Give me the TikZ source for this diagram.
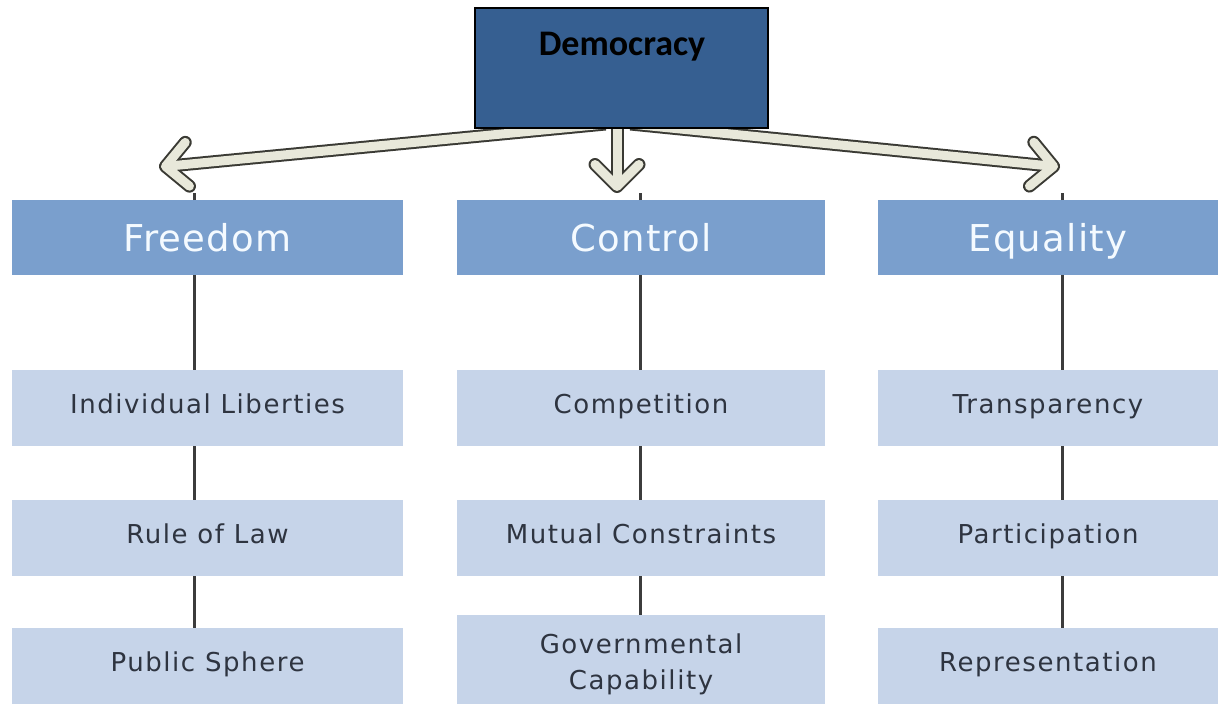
\documentclass[tikz,border=0pt]{standalone}
\usepackage{fontspec}
\setmainfont{DejaVu Sans}
\newfontfamily\titlefont{Carlito}
\newfontfamily\headfont[LetterSpace=3.6]{DejaVu Sans}
\newfontfamily\itemfont[LetterSpace=6]{DejaVu Sans}
\usetikzlibrary{arrows.meta}

\definecolor{demblue}{RGB}{54,95,145}
\definecolor{headblue}{RGB}{122,159,205}
\definecolor{itemblue}{RGB}{198,212,233}
\definecolor{headtxt}{RGB}{244,250,255}
\definecolor{itemtxt}{RGB}{46,52,64}
\definecolor{linkgray}{RGB}{60,60,60}
\definecolor{rimgray}{RGB}{58,58,52}
\definecolor{arrowfill}{RGB}{232,232,218}

\pgfdeclarelayer{back}
\pgfsetlayers{back,main}

\begin{document}
\begin{tikzpicture}[x=1pt,y=-1pt,
  every node/.style={inner sep=0pt, outer sep=0pt},
  rootbox/.style={draw=black, line width=1.4pt, fill=demblue,
    minimum width=293pt, minimum height=120pt},
  roottitle/.style={font=\titlefont\bfseries\fontsize{36}{40}\selectfont, text=black},
  headbox/.style={fill=headblue, minimum height=75pt, text height=27pt, text depth=0pt,
    font=\headfont\fontsize{37}{40}\selectfont, text=headtxt},
  itembox/.style={fill=itemblue, minimum height=76pt, align=center,
    font=\itemfont\fontsize{26}{36}\selectfont, text=itemtxt},
  oneline/.style={text height=19pt, text depth=8pt},
  link/.style={draw=linkgray, line width=3pt},
  barb/.style={-{Straight Barb[length=22pt, width=44pt, round]}},
  arrowrim/.style={barb, draw=rimgray, line width=13pt},
  arrowbody/.style={barb, draw=arrowfill, line width=9pt, shorten >=2pt},
]
\useasboundingbox (0,0) rectangle (1222,704);

% top concept
\node[rootbox] (dem) at (621.5,68) {};
\node[roottitle, anchor=base] (demtitle) at (622,55) {Democracy};

% column headers
\node[headbox, minimum width=391pt] (hF) at (207.5,237.5) {Freedom};
\node[headbox, minimum width=368pt] (hC) at (641,237.5) {Control};
\node[headbox, minimum width=340pt] (hE) at (1048,237.5) {Equality};

% Freedom column
\node[itembox, oneline, minimum width=391pt] (rF1) at (207.5,408) {Individual Liberties};
\node[itembox, oneline, minimum width=391pt] (rF2) at (207.5,538) {Rule of Law};
\node[itembox, oneline, minimum width=391pt] (rF3) at (207.5,666) {Public Sphere};

% Control column
\node[itembox, oneline, minimum width=368pt] (rC1) at (641,408) {Competition};
\node[itembox, oneline, minimum width=368pt] (rC2) at (641,538) {Mutual Constraints};
\node[itembox, minimum width=368pt, minimum height=89pt] (rC3) at (641,659.5)
  {\rule{0pt}{30pt}Governmental\\Capability};

% Equality column
\node[itembox, oneline, minimum width=340pt] (rE1) at (1048,408) {Transparency};
\node[itembox, oneline, minimum width=340pt] (rE2) at (1048,538) {Participation};
\node[itembox, oneline, minimum width=340pt] (rE3) at (1048,666) {Representation};

% vertical axes of the three columns
\coordinate (xF) at (194,0);
\coordinate (xC) at (640,0);
\coordinate (xE) at (1062,0);

\foreach \c/\h/\a/\b/\d in {xF/hF/rF1/rF2/rF3, xC/hC/rC1/rC2/rC3, xE/hE/rE1/rE2/rE3}{
  \draw[link] (\c |- \h.north) -- ++(0,-7);
  \draw[link] (\c |- \h.south) -- (\c |- \a.north);
  \draw[link] (\c |- \a.south) -- (\c |- \b.north);
  \draw[link] (\c |- \b.south) -- (\c |- \d.north);
}

% block arrows from the top concept
\coordinate (rootL) at ([xshift=-16pt, yshift=4pt]dem.south);
\coordinate (rootM) at ([xshift=-4.5pt, yshift=4pt]dem.south);
\coordinate (rootR) at ([xshift=9pt, yshift=4pt]dem.south);
\coordinate (tipL) at (159,167);
\coordinate (tipM) at (617,193);
\coordinate (tipR) at (1060,167);

\begin{pgfonlayer}{back}
  \draw[arrowrim] (rootL) -- (tipL);
  \draw[arrowrim] (rootM) -- (tipM);
  \draw[arrowrim] (rootR) -- (tipR);
  \draw[arrowbody] (rootL) -- (tipL);
  \draw[arrowbody] (rootM) -- (tipM);
  \draw[arrowbody] (rootR) -- (tipR);
\end{pgfonlayer}
\end{tikzpicture}
\end{document}
